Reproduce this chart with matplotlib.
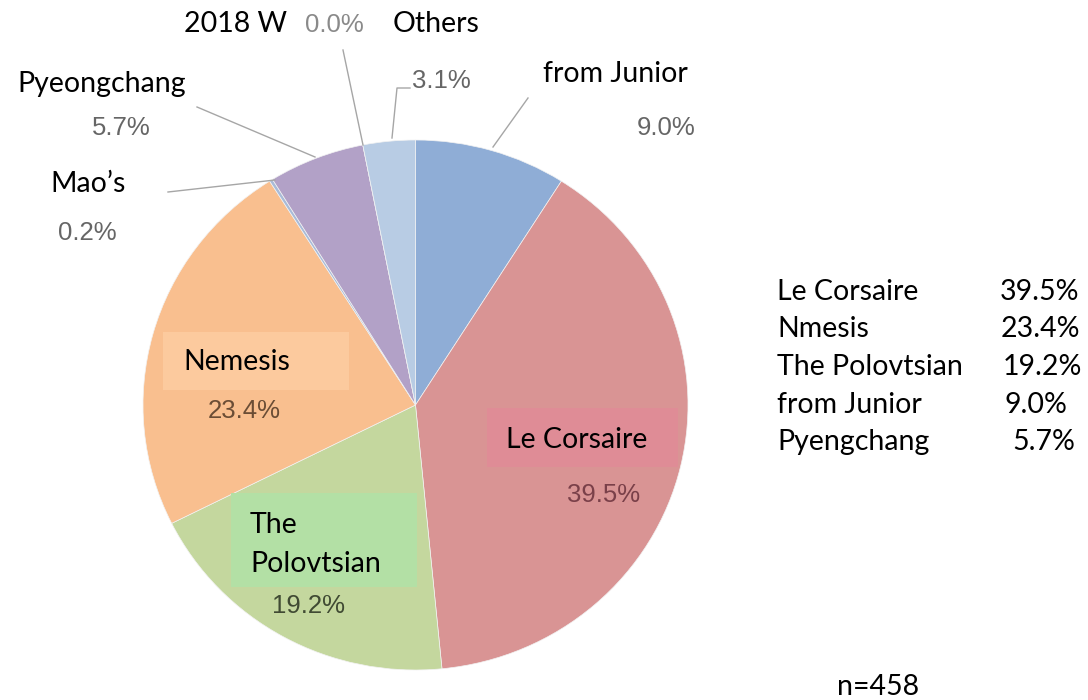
import matplotlib
matplotlib.use("Agg")
import matplotlib.pyplot as plt
from matplotlib.patches import Rectangle

# ---- data ----
categories = ["from Junior", "Le Corsaire", "The Polovtsian", "Nemesis",
              "Mao\u2019s", "Pyeongchang", "2018 W", "Others"]
shares = [9.0, 39.5, 19.2, 23.4, 0.2, 5.7, 0.0, 3.1]
pct_labels = ["9.0%", "39.5%", "19.2%", "23.4%", "0.2%", "5.7%", "0.0%", "3.1%"]
slice_colors = ["#8FADD6", "#D99494", "#C4D79E", "#F9BF8F",
                "#A9BBD8", "#B2A1C7", "#B8CCE4", "#B8CCE4"]

table_names = ["Le Corsaire", "Nmesis", "The Polovtsian", "from Junior", "Pyengchang"]
table_values = ["39.5%", "23.4%", "19.2%", "9.0%", "5.7%"]
sample_note = "n=458"

W, H = 1088, 700
fig = plt.figure(figsize=(W / 100, H / 100), dpi=100)
fig.patch.set_facecolor("white")

# pie axes: ellipse spanning pixels x 143..688, y 140..670
px0, px1, py0, py1 = 143, 688, 140, 670
pax = fig.add_axes([px0 / W, (H - py1) / H, (px1 - px0) / W, (py1 - py0) / H])
wedges, _ = pax.pie(shares, colors=slice_colors, startangle=90, counterclock=False,
                    radius=1.0, wedgeprops=dict(edgecolor="#f2f2f2", linewidth=0.5))
pax.set_aspect("auto")
pax.set_xlim(-1, 1)
pax.set_ylim(-1, 1)
pax.axis("off")

# overlay axes in pixel coordinates (y down)
ax = fig.add_axes([0, 0, 1, 1], facecolor="none")
ax.set_xlim(0, W)
ax.set_ylim(H, 0)
ax.axis("off")

LFONT = ["Lato", "DejaVu Sans"]
PFONT = ["Liberation Sans", "DejaVu Sans"]
LS = 20.5
PS = 18.5

# label boxes
boxes = {
    "Nemesis": ((163, 332), 186, 58, "#FCCA9E"),
    "Le Corsaire": ((487, 408), 191, 59, "#DF8C96"),
    "The Polovtsian": ((231, 493), 186, 94, "#B3E0A5"),
}
for k, (xy, w, h, c) in boxes.items():
    ax.add_patch(Rectangle(xy, w, h, facecolor=c, edgecolor="none", zorder=2))

# leader lines
lc = "#A6A6A6"
ax.plot([363, 343], [145, 50], color=lc, lw=1.0, zorder=3)
ax.plot([392, 397, 410], [138, 88, 88], color=lc, lw=1.0, zorder=3)
ax.plot([493, 528], [147, 98], color=lc, lw=1.0, zorder=3)
ax.plot([315, 197], [157, 107], color=lc, lw=1.0, zorder=3)
ax.plot([275, 168], [180, 192], color=lc, lw=1.0, zorder=3)

def lab(x, y, s, size=LS, color="black", fam=LFONT, ha="left"):
    ax.text(x, y, s, fontsize=size, color=color, family=fam, ha=ha, va="baseline", zorder=4)

# category labels
lab(236, 32, categories[6], ha="center")
lab(393, 32, categories[7])
lab(543, 82, categories[0])
lab(17, 92, categories[5])
lab(50, 192, categories[4])
lab(183, 370, categories[3])
lab(506, 448, categories[1])
lab(250, 533, "The")
lab(250, 572, "Polovtsian")

# percent labels
g = "#666666"
lab(305, 32, pct_labels[6], PS, "#8a8a8a", PFONT)
lab(412, 88, pct_labels[7], PS, g, PFONT)
lab(637, 135, pct_labels[0], PS, g, PFONT)
lab(92, 135, pct_labels[5], PS, g, PFONT)
lab(58, 240, pct_labels[4], PS, g, PFONT)
lab(208, 418, pct_labels[3], PS, "#6B4D35", PFONT)
lab(567, 502, pct_labels[1], PS, "#7A4049", PFONT)
lab(272, 613, pct_labels[2], PS, "#404A33", PFONT)

# right-side table
row_base = [300, 337, 375, 413, 450]
val_x = [1000, 1001, 1003, 1005, 1012]
for name, val, yb, vx in zip(table_names, table_values, row_base, val_x):
    lab(777, yb, name)
    lab(vx, yb, val)

lab(837, 695, sample_note)

fig.savefig("out.png", dpi=100, facecolor="white")
